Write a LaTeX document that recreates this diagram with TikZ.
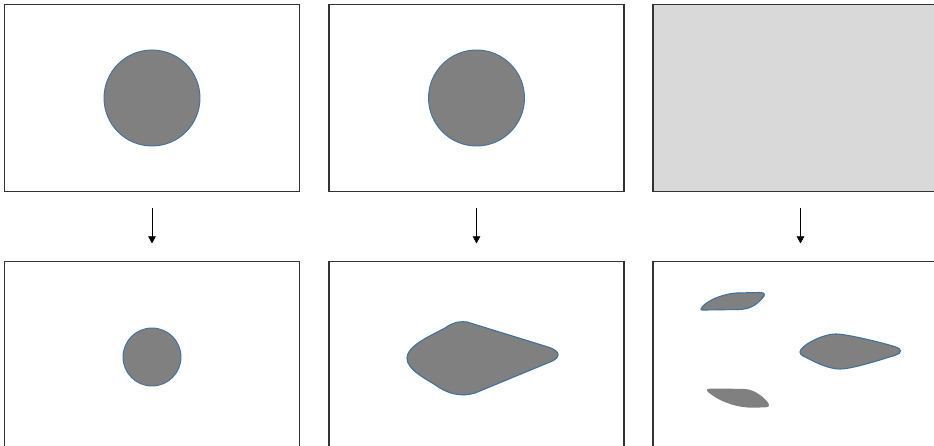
\documentclass[tikz,border=0pt]{standalone}
\usetikzlibrary{arrows.meta}
\definecolor{blobfill}{HTML}{808080}
\definecolor{blobline}{HTML}{41719C}
\definecolor{framefill}{HTML}{D9D9D9}
\definecolor{frameline}{HTML}{333333}
\tikzset{
  frame/.style={rectangle, draw=frameline, line width=1.2pt, fill=white,
    minimum width=295pt, minimum height=187pt, inner sep=0pt},
  disc/.style={circle, draw=blobline, line width=0.9pt, fill=blobfill, inner sep=0pt},
  blob/.style={draw=blobline, line width=1.1pt, fill=blobfill},
  bareblob/.style={fill=blobfill},
  flow/.style={draw=black, line width=0.6pt, -{Triangle[length=7pt,width=7.5pt]},
    shorten <=15.5pt, shorten >=17.5pt}
}
\begin{document}
\begin{tikzpicture}[x=1pt, y=-1pt]
  \useasboundingbox (0,0) rectangle (934,446);
  \clip (0,0) rectangle (934,446);

  % frames, top row
  \node[frame] (t1) at (152,98) {};
  \node[frame] (t2) at (476.5,98) {};
  \node[frame, fill=framefill] (t3) at (800.5,98) {};
  % frames, bottom row
  \node[frame] (b1) at (152,355) {};
  \node[frame] (b2) at (476.5,355) {};
  \node[frame] (b3) at (800.5,355) {};

  % arrows between rows
  \draw[flow] (t1.south) -- (b1.north);
  \draw[flow] (t2.south) -- (b2.north);
  \draw[flow] (t3.south) -- (b3.north);

  % discs
  \node[disc, minimum size=96pt] (d1) at (152,98) {};
  \node[disc, minimum size=96pt] (d2) at (476.5,98) {};
  \node[disc, minimum size=58pt] (d3) at (152,357) {};

  % stretched blob
  \draw[blob] (407,358)
    .. controls (407,346) and (430,336) .. (445,328)
    .. controls (452,323) and (458,321) .. (467,322)
    -- (548,347)
    .. controls (561,351) and (561,358) .. (550,362)
    -- (475,393)
    .. controls (462,397) and (450,394) .. (440,388)
    .. controls (425,378) and (407,370) .. cycle;

  % scattered fragments
  \draw[blob] (701,309)
    .. controls (703,303) and (720,294) .. (737,293)
    -- (760,292.5)
    .. controls (766,292.5) and (765,295.5) .. (762,298.5)
    .. controls (756,305) and (750,309.5) .. (738,309.5)
    -- (705,310)
    .. controls (701,310) and (700,310) .. cycle;

  \draw[blob] (800,352)
    .. controls (800,346) and (822,334) .. (836,334)
    .. controls (846,334) and (880,342) .. (896,347)
    .. controls (902,349) and (902,353) .. (896,355)
    .. controls (880,360) and (852,369) .. (840,369)
    .. controls (828,369) and (815,362) .. (805,357)
    .. controls (801,355) and (800,354) .. cycle;

  \fill[bareblob] (707,390)
    .. controls (706,388.5) and (712,388.5) .. (720,388.5)
    -- (745,389)
    .. controls (755,389.5) and (765,398) .. (768.5,403.5)
    .. controls (770,407) and (768,407.5) .. (760,407.5)
    -- (748,407.5)
    .. controls (733,407) and (716,399) .. (710,393.5)
    .. controls (707,391.5) and (707,391) .. cycle;
\end{tikzpicture}
\end{document}
